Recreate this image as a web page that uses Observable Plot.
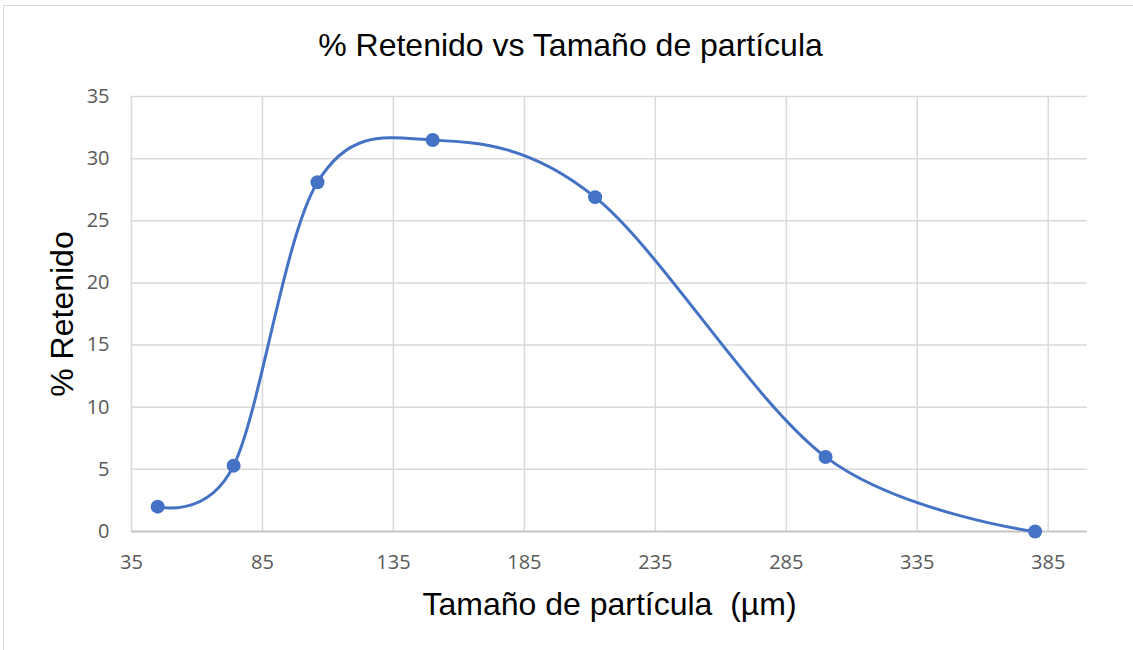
<!DOCTYPE html>
<html>
<head>
<meta charset="utf-8">
<script src="https://cdn.jsdelivr.net/npm/d3@7"></script>
<script src="https://cdn.jsdelivr.net/npm/@observablehq/plot@0.6"></script>
<style>
  html, body { margin: 0; padding: 0; background: #fff; }
  #chart { position: relative; width: 1133px; height: 650px; overflow: hidden; }
  #frame { position: absolute; left: 3px; top: 5px; width: 1140px; height: 660px;
           border-top: 1.5px solid #d9d9d9; border-left: 1.5px solid #d9d9d9; box-sizing: border-box; }
  #title { position: absolute; left: 0; width: 1141px; top: 29px; height: 32px; line-height: 32px;
           text-align: center; font-family: "Liberation Sans", Arial, sans-serif; font-size: 32px; color: #000; }
  #plot { position: absolute; left: 0; top: 80px; }
</style>
</head>
<body>
<div id="chart">
  <div id="frame"></div>
  <div id="title">% Retenido vs Tamaño de partícula</div>
  <div id="plot"></div>
</div>
<script>
// Particle size (µm) and percentage retained on each sieve
const sizes = [45, 74, 106, 150, 212, 300, 380];
const retained = [2.0, 5.3, 28.1, 31.5, 26.9, 6.0, 0];

// Axis tick values
const xTicks = [35, 85, 135, 185, 235, 285, 335, 385];
const yTicks = [0, 5, 10, 15, 20, 25, 30, 35];

const data = sizes.map((s, i) => ({size: s, pct: retained[i]}));

const blue = "#4472C4";
const grid = "#d9d9d9";
const tickColor = "#595959";
const tickFont = "'Open Sans', sans-serif";
const labelFont = "'Liberation Sans', Arial, sans-serif";

const chart = Plot.plot({
  width: 1133,
  height: 570,
  marginLeft: 131,
  marginRight: 46,
  marginTop: 16,
  marginBottom: 119,
  style: {background: "transparent", overflow: "visible"},
  x: {domain: [35, 400], ticks: xTicks},
  y: {domain: [0, 35], ticks: yTicks},
  marks: [
    Plot.gridX(xTicks, {stroke: grid, strokeOpacity: 1, strokeWidth: 1.5}),
    Plot.gridY(yTicks.filter(d => d > 0), {stroke: grid, strokeOpacity: 1, strokeWidth: 1.5}),
    Plot.ruleY([0], {stroke: "#c6c6c6", strokeWidth: 1.8}),
    Plot.axisX(xTicks, {tickSize: 0, tickPadding: 23, label: null, fontSize: 20,
                        fontFamily: tickFont, fill: tickColor}),
    Plot.axisY(yTicks, {tickSize: 0, tickPadding: 22, label: null, fontSize: 20,
                        fontFamily: tickFont, fill: tickColor}),
    // smoothed connecting line through the measured points
    Plot.line(data, {x: "size", y: "pct", curve: "cardinal", tension: 0, stroke: blue, strokeWidth: 3}),
    Plot.dot(data, {x: "size", y: "pct", r: 7, fill: blue, stroke: "none"}),
    Plot.text(["Tamaño de partícula  (µm)"], {frameAnchor: "bottom", dy: 73, lineAnchor: "middle",
              textAnchor: "middle", fontSize: 32, fontFamily: labelFont, fill: "#000"}),
    Plot.text(["% Retenido"], {frameAnchor: "left", dx: -69, rotate: -90, lineAnchor: "middle",
              textAnchor: "middle", fontSize: 32, fontFamily: labelFont, fill: "#000"})
  ]
});
document.getElementById("plot").appendChild(chart);
</script>
</body>
</html>
